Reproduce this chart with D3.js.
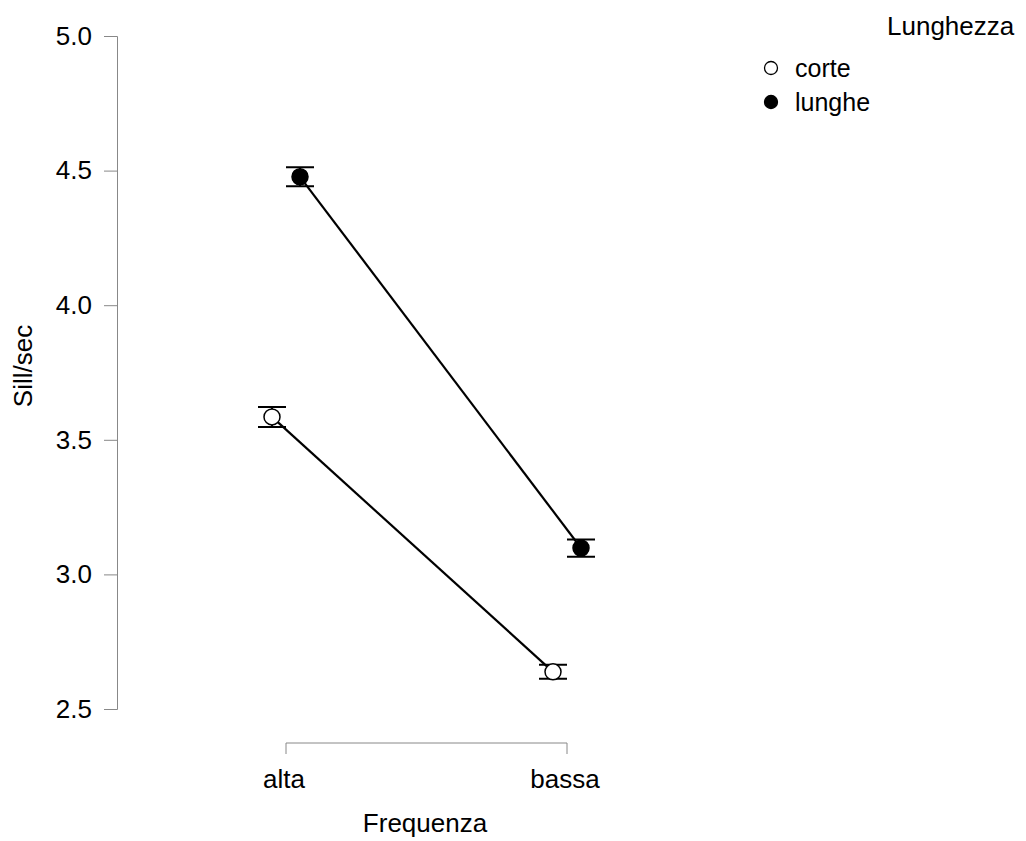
<!DOCTYPE html>
<html>
<head>
<meta charset="UTF-8">
<title>Sill/sec per Frequenza</title>
<style>
  body { margin: 0; background: #fff; }
  svg { font-family: "Liberation Sans", Arial, sans-serif; }
</style>
</head>
<body>
<svg id="chart"></svg>
<script src="https://d3js.org/d3.v7.min.js"></script>
<script>
// data
var frequenze = ["alta", "bassa"];
var gruppi = ["corte", "lunghe"];
var corteMedia = [3.585, 2.638];
var corteErr = [0.037, 0.026];
var lungheMedia = [4.477, 3.098];
var lungheErr = [0.035, 0.032];
var yTicks = [2.5, 3.0, 3.5, 4.0, 4.5, 5.0];

var width = 1026, height = 841;
var svg = d3.select("#chart").attr("width", width).attr("height", height);

var x = d3.scalePoint().domain(frequenze).range([286, 567]);
var y = d3.scaleLinear().domain([2.5, 5.0]).range([709, 36]);
var dodge = d3.scalePoint().domain(gruppi).range([-14, 14]);

var series = [
  { name: "corte", fill: "#fff", vals: corteMedia, err: corteErr },
  { name: "lunghe", fill: "#000", vals: lungheMedia, err: lungheErr }
];

// y axis
var yAxis = svg.append("g")
  .attr("transform", "translate(117,0)")
  .call(d3.axisLeft(y).tickValues(yTicks).tickFormat(d3.format(".1f")).tickSize(13).tickPadding(12));
yAxis.select(".domain").attr("stroke", "#888");
yAxis.selectAll(".tick line").attr("stroke", "#888");
yAxis.selectAll("text").attr("font-size", 26).attr("fill", "#000")
  .attr("font-family", "Liberation Sans, Arial, sans-serif");

// x axis (bracket)
var xAxis = svg.append("g")
  .attr("transform", "translate(0,743)")
  .call(d3.axisTop(x).tickSize(0).tickSizeOuter(0));
xAxis.select(".domain").remove();
xAxis.selectAll(".tick text").remove();
xAxis.append("path")
  .attr("d", "M" + x("alta") + ",11V0H" + x("bassa") + "V11")
  .attr("fill", "none").attr("stroke", "#888");
svg.append("g").selectAll("text")
  .data(frequenze).enter().append("text")
  .attr("x", function(d){ return x(d) - 2; })
  .attr("y", 788)
  .attr("text-anchor", "middle")
  .attr("font-size", 26).attr("fill", "#000")
  .text(function(d){ return d; });

// axis titles
svg.append("text")
  .attr("x", 425).attr("y", 832)
  .attr("text-anchor", "middle")
  .attr("font-size", 26).attr("fill", "#000")
  .text("Frequenza");
svg.append("text")
  .attr("transform", "translate(32,366) rotate(-90)")
  .attr("text-anchor", "middle")
  .attr("font-size", 26).attr("fill", "#000")
  .text("Sill/sec");

// lines
var line = d3.line()
  .x(function(d){ return x(d.f) + dodge(d.g); })
  .y(function(d){ return y(d.v); });

series.forEach(function(s) {
  var pts = frequenze.map(function(f, i){ return { f: f, g: s.name, v: s.vals[i], e: s.err[i] }; });
  svg.append("path")
    .datum(pts)
    .attr("d", line)
    .attr("fill", "none").attr("stroke", "#000").attr("stroke-width", 2.2);

  var g = svg.append("g");
  // error bars
  g.selectAll(".err").data(pts).enter().append("path")
    .attr("d", function(d){
      var cx = x(d.f) + dodge(d.g), t = y(d.v + d.e), b = y(d.v - d.e);
      return "M" + (cx - 14) + "," + t + "H" + (cx + 14) +
             "M" + cx + "," + t + "V" + b +
             "M" + (cx - 14) + "," + b + "H" + (cx + 14);
    })
    .attr("fill", "none").attr("stroke", "#000").attr("stroke-width", 2);
  // points
  g.selectAll("circle").data(pts).enter().append("circle")
    .attr("cx", function(d){ return x(d.f) + dodge(d.g); })
    .attr("cy", function(d){ return y(d.v); })
    .attr("r", 8)
    .attr("fill", s.fill).attr("stroke", "#000").attr("stroke-width", 1.5);
});

// legend
svg.append("text")
  .attr("x", 887).attr("y", 35)
  .attr("font-size", 26).attr("fill", "#000")
  .text("Lunghezza");
var leg = svg.append("g").selectAll("g").data(series).enter().append("g")
  .attr("transform", function(d, i){ return "translate(771," + (68 + i * 34) + ")"; });
leg.append("circle").attr("r", 6.5)
  .attr("fill", function(d){ return d.fill; })
  .attr("stroke", "#000").attr("stroke-width", 1.3);
leg.append("text")
  .attr("x", 24).attr("y", 9)
  .attr("font-size", 25).attr("fill", "#000")
  .text(function(d){ return d.name; });
</script>
</body>
</html>
